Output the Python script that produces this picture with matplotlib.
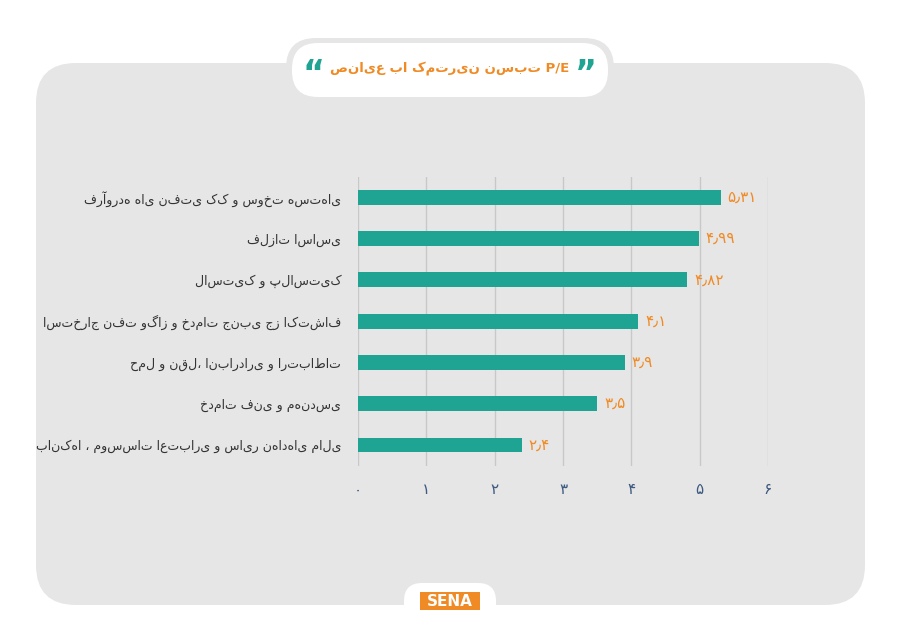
import matplotlib
matplotlib.use("Agg")
import matplotlib.pyplot as plt
from matplotlib.patches import FancyBboxPatch

categories = ["فرآورده های نفتی کک و سوخت هسته‌ای", "فلزات اساسی", "لاستیک و پلاستیک",
              "استخراج نفت وگاز و خدمات جنبی جز اکتشاف", "حمل و نقل، انبارداری و ارتباطات",
              "خدمات فنی و مهندسی", "بانک‌ها ، موسسات اعتباری و سایر نهادهای مالی"]
values = [5.31, 4.99, 4.82, 4.1, 3.9, 3.5, 2.4]
value_labels = ["۵٫۳۱", "۴٫۹۹", "۴٫۸۲", "۴٫۱", "۳٫۹", "۳٫۵", "۲٫۴"]
ticks = [0, 1, 2, 3, 4, 5, 6]
tick_labels = ["۰", "۱", "۲", "۳", "۴", "۵", "۶"]

plt.rcParams['font.family'] = ['DejaVu Sans']
fig = plt.figure(figsize=(9, 6.36), dpi=100)
fig.patch.set_facecolor("white")
bg = fig.add_axes([0, 0, 1, 1]); bg.set_xlim(0, 900); bg.set_ylim(636, 0); bg.axis("off")
bg.add_patch(FancyBboxPatch((36, 63), 829, 542, boxstyle="round,pad=0,rounding_size=40",
                            fc="#e6e6e6", ec="none"))
bg.add_patch(FancyBboxPatch((286, 38), 328, 64, boxstyle="round,pad=0,rounding_size=30",
                            fc="#e6e6e6", ec="none"))
bg.add_patch(FancyBboxPatch((292, 43), 316, 54, boxstyle="round,pad=0,rounding_size=26",
                            fc="white", ec="none"))
bg.text(586, 74, "”", color="#1fa393", fontsize=24, ha="center", va="center", fontweight="bold")
bg.text(314, 74, "“", color="#1fa393", fontsize=24, ha="center", va="center", fontweight="bold")
bg.text(450, 68, "صنایع با کمترین نسبت P/E", color="#f08a24", fontsize=9.5,
        ha="center", va="center", fontweight="bold")
bg.add_patch(FancyBboxPatch((404, 583), 92, 40, boxstyle="round,pad=0,rounding_size=18",
                            fc="white", ec="none"))
bg.add_patch(plt.Rectangle((420, 592), 60, 18, fc="#f08a24", ec="none"))
bg.text(450, 601, "SENA", color="white", fontsize=11, ha="center", va="center", fontweight="bold")

ax = fig.add_axes([358/900, 1-465.6/636, 410/900, 289/636])
ax.set_facecolor("none")
y = list(range(len(categories)))
ax.barh(y, values, height=0.36, color="#1fa393")
ax.set_xlim(0, 6); ax.set_ylim(len(categories)-0.5, -0.5)
ax.set_xticks(ticks); ax.set_xticklabels(tick_labels, color="#3d5a80", fontsize=11)
ax.set_yticks(y); ax.set_yticklabels(categories, fontsize=9, color="#333333")
ax.tick_params(length=0, axis="y", pad=12)
ax.tick_params(length=0, axis="x", pad=12)
ax.grid(axis="x", color="#c8c8c8", lw=1)
ax.set_axisbelow(True)
for s in ax.spines.values(): s.set_visible(False)
for yi, v, t in zip(y, values, value_labels):
    ax.text(v + 0.1, yi, t, color="#f08a24", fontsize=11, va="center", ha="left")
fig.savefig("out.png", dpi=100)
